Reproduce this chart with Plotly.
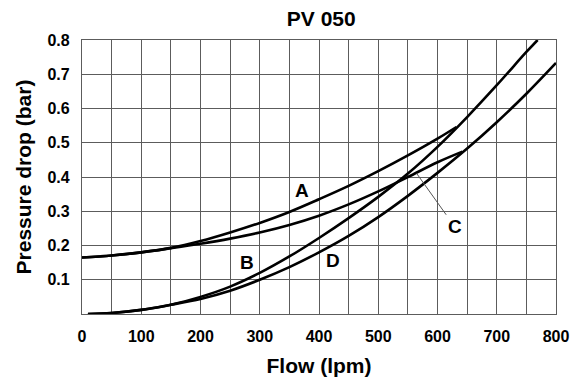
import plotly.graph_objects as go

# Flow (lpm) / pressure drop (bar)
a_flow = [0, 50, 100, 150, 200, 250, 300, 350, 400, 450, 500, 550, 600, 632]
a_dp = [0.165, 0.171, 0.180, 0.193, 0.213, 0.238, 0.266, 0.298, 0.335, 0.374, 0.417, 0.463, 0.512, 0.546]

c_flow = [0, 50, 100, 150, 200, 250, 300, 350, 400, 450, 500, 550, 600, 642]
c_dp = [0.165, 0.171, 0.180, 0.192, 0.205, 0.220, 0.238, 0.260, 0.287, 0.320, 0.358, 0.400, 0.443, 0.474]

b_flow = [10, 50, 100, 150, 200, 250, 300, 350, 400, 450, 500, 550, 600, 650, 700, 750, 769]
b_dp = [0.0, 0.003, 0.012, 0.027, 0.050, 0.080, 0.120, 0.168, 0.222, 0.280, 0.342, 0.410, 0.488, 0.575, 0.668, 0.765, 0.800]

d_flow = [10, 50, 100, 150, 200, 250, 300, 350, 400, 450, 500, 550, 600, 650, 700, 750, 800]
d_dp = [0.0, 0.003, 0.012, 0.027, 0.044, 0.068, 0.100, 0.137, 0.180, 0.228, 0.283, 0.345, 0.412, 0.483, 0.560, 0.643, 0.733]

x_tick_step = 100
x_grid_step = 50
y_ticks = [0.1, 0.2, 0.3, 0.4, 0.5, 0.6, 0.7, 0.8]

FONT = "Liberation Sans"
fig = go.Figure()
for fx, fy in [(a_flow, a_dp), (c_flow, c_dp), (b_flow, b_dp), (d_flow, d_dp)]:
    fig.add_trace(go.Scatter(x=fx, y=fy, mode="lines", line=dict(color="black", width=2.6, shape="spline", smoothing=1.0),
                             showlegend=False, hoverinfo="skip"))

lab = dict(family=FONT, size=19, color="black", weight="bold")
fig.add_annotation(x=372, y=0.362, text="A", showarrow=False, font=lab)
fig.add_annotation(x=278, y=0.150, text="B", showarrow=False, font=lab)
fig.add_annotation(x=423, y=0.155, text="D", showarrow=False, font=lab)
fig.add_annotation(x=565, y=0.41, ax=629, ay=0.255, axref="x", ayref="y", text="C", showarrow=True,
                   arrowhead=0, arrowwidth=1, arrowcolor="#555", font=lab)

grid = "#5c5c5c"
fig.update_layout(
    width=581, height=386,
    margin=dict(l=82, r=20, t=40, b=69),
    paper_bgcolor="white", plot_bgcolor="white",
    title=dict(text="PV 050", x=0.553, xanchor="center", y=1 - 19 / 386, yanchor="middle", yref="container",
               font=dict(family=FONT, size=21, color="black", weight="bold")),
)
fig.update_xaxes(range=[0, 800], tick0=0, dtick=x_tick_step, showgrid=True, gridcolor=grid, gridwidth=1.2,
                 minor=dict(tick0=0, dtick=x_grid_step, showgrid=True, gridcolor=grid, gridwidth=1.2),
                 showline=True, linecolor=grid, linewidth=1.2, mirror=True, zeroline=False,
                 ticks="", ticklabelstandoff=8,
                 tickfont=dict(family=FONT, size=16, color="black", weight="bold"),
                 title=dict(text="Flow (lpm)", standoff=14, font=dict(family=FONT, size=21, color="black", weight="bold")))
fig.update_yaxes(range=[0, 0.8], tickvals=y_ticks, tickformat=".1f", showgrid=True, gridcolor=grid, gridwidth=1.2,
                 showline=True, linecolor=grid, linewidth=1.2, mirror=True, zeroline=False,
                 ticks="", ticklabelstandoff=8,
                 tickfont=dict(family=FONT, size=16, color="black", weight="bold"),
                 title=dict(text="Pressure drop (bar)", standoff=10, font=dict(family=FONT, size=21, color="black", weight="bold")))

fig.write_html("out.html")
